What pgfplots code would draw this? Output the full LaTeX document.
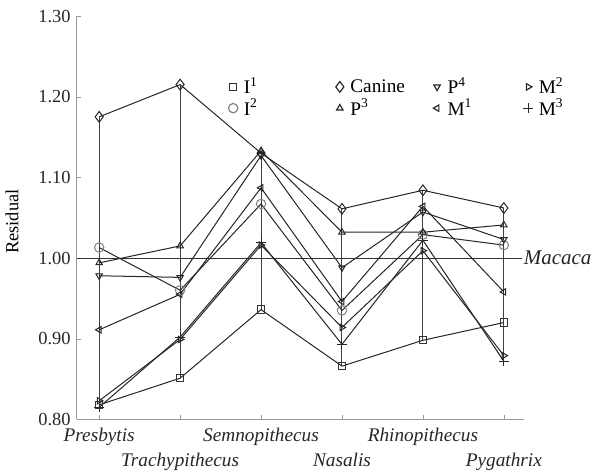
\documentclass[border={0pt 0pt 0pt 2.5pt}]{standalone}
\usepackage{pgfplots}
\pgfplotsset{compat=1.18}
\usepackage{pgfplotstable}
\usepackage{fontspec}
\setmainfont{Liberation Serif}
\pgfplotstableread{
x     I1     I2     C      P3     P4     M1     M2     M3
0     0.818  1.013  1.175  0.994  0.978  0.911  0.823  0.815
1     0.851  0.960  1.215  1.015  0.976  0.955  0.899  0.902
2     0.936  1.067  1.130  1.133  1.127  1.087  1.016  1.019
3     0.866  0.935  1.061  1.032  0.988  0.946  0.914  0.893
4     0.898  1.029  1.084  1.032  1.057  1.064  1.009  1.022
5     0.920  1.016  1.062  1.041  1.023  0.958  0.879  0.872
}\datatable
\begin{document}
\begin{tikzpicture}
\begin{axis}[
  scale only axis,
  width=267pt, height=240.6pt,
  xmin=-0.28, xmax=5.25,
  ymin=0.80, ymax=1.30,
  ytick={0.8,0.9,1.0,1.1,1.2,1.3},
  yticklabel style={font=\fontsize{11}{13}\selectfont, text=black!85, /pgf/number format/.cd, fixed, fixed zerofill, precision=2, assume math mode=true},
  xtick={0,1,2,3,4,5},
  xticklabels={Presbytis,{\strut\\[1pt]Trachypithecus},Semnopithecus,{\strut\\[1pt]Nasalis},Rhinopithecus,{\strut\\[1pt]Pygathrix}},
  xticklabel style={font=\fontsize{11.5}{13}\selectfont\itshape, align=center, inner sep=1pt, yshift=-4pt, text=black!85},
  axis x line*=bottom, axis y line*=left,
  axis line style={gray!80, line width=0.6pt},
  tick align=inside, major tick length=2.5pt,
  tick style={gray!80},
  ylabel={Residual},
  ylabel style={at={(axis description cs:-0.144,0.49)}, anchor=center, font=\fontsize{11}{13}\selectfont},
  clip=false,
  mark size=2.2pt,
  legend columns=2, transpose legend,
  legend cell align=left,
  legend image code/.code={\path (-4pt,0pt) (4pt,0pt); \draw[#1, line width=0.7pt] plot[only marks] coordinates {(0pt,0pt)};},
  legend style={draw=none, fill=none, at={(axis description cs:0.322,0.865)}, anchor=north west, row sep=-2.5pt, font=\fontsize{11.5}{13}\selectfont},
]
% range lines
\addplot[forget plot, black!75, line width=0.6pt] coordinates {(0,0.815) (0,1.175)};
\addplot[forget plot, black!75, line width=0.6pt] coordinates {(1,0.851) (1,1.215)};
\addplot[forget plot, black!75, line width=0.6pt] coordinates {(2,0.936) (2,1.133)};
\addplot[forget plot, black!75, line width=0.6pt] coordinates {(3,0.866) (3,1.061)};
\addplot[forget plot, black!75, line width=0.6pt] coordinates {(4,0.898) (4,1.084)};
\addplot[forget plot, black!75, line width=0.6pt] coordinates {(5,0.872) (5,1.062)};
% Macaca line
\addplot[forget plot, black!80, line width=0.6pt] coordinates {(-0.28,1.0) (5.22,1.0)} node[pos=1, right, inner sep=1pt, font=\fontsize{12.5}{14}\selectfont\itshape, text=black!85] {Macaca};
\addplot[black!85, line width=0.6pt, mark=square, mark options={solid, fill=white, draw=black!80}] table[x=x,y=I1] {\datatable};
\addplot[black!85, line width=0.6pt, mark=o, mark size=2.8pt, mark options={solid, fill=white, draw=gray}] table[x=x,y=I2] {\datatable};
\addplot[black!85, line width=0.6pt, mark=diamond, mark size=3.2pt, mark options={solid, fill=white}] table[x=x,y=C] {\datatable};
\addplot[black!85, line width=0.6pt, mark=triangle, mark options={solid, fill=white}] table[x=x,y=P3] {\datatable};
\addplot[black!85, line width=0.6pt, mark=triangle, mark options={solid, fill=white, rotate=180}] table[x=x,y=P4] {\datatable};
\addplot[black!85, line width=0.6pt, mark=triangle, mark options={solid, fill=white, rotate=90}] table[x=x,y=M1] {\datatable};
\addplot[black!85, line width=0.6pt, mark=triangle, mark options={solid, fill=white, rotate=-90}] table[x=x,y=M2] {\datatable};
\addplot[black!85, line width=0.6pt, mark=+, mark size=3pt, mark options={solid}] table[x=x,y=M3] {\datatable};
\legend{\makebox[51pt][l]{I\textsuperscript{1}},\makebox[51pt][l]{I\textsuperscript{2}},
  \makebox[45.4pt][l]{Canine},\makebox[45.4pt][l]{P\textsuperscript{3}},
  \makebox[41.8pt][l]{P\textsuperscript{4}},\makebox[41.8pt][l]{M\textsuperscript{1}},
  M\textsuperscript{2},M\textsuperscript{3}}
\end{axis}
\end{tikzpicture}
\end{document}
